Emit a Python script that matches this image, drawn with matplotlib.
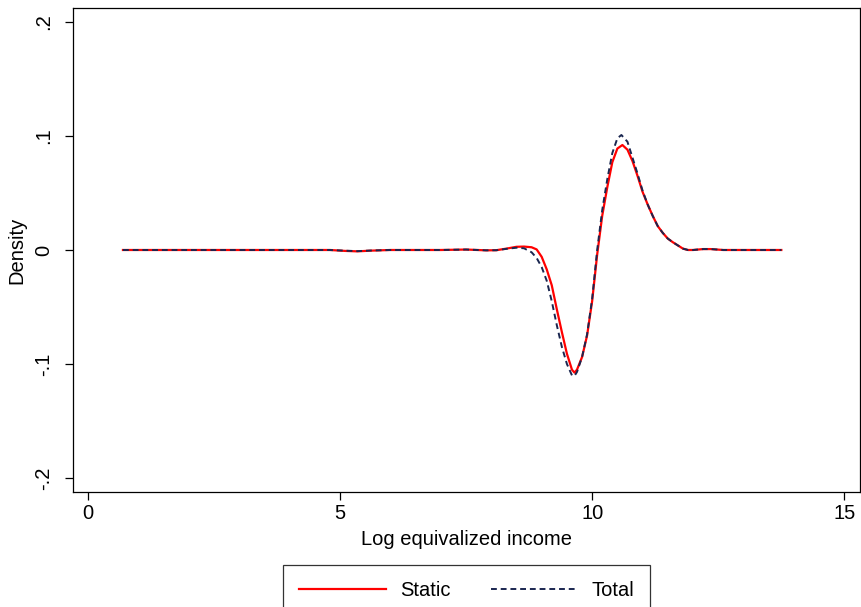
import matplotlib
matplotlib.use("Agg")
from matplotlib import pyplot as plt

plt.rcParams['font.family'] = ['Liberation Sans', 'DejaVu Sans']

# values
static_x = [0.7, 2.0, 3.0, 4.0, 4.8, 5.1, 5.35, 5.6, 6.0, 7.0, 7.5, 7.9, 8.1, 8.3,
            8.5, 8.65, 8.8, 8.9, 9.0, 9.1, 9.2, 9.3, 9.4, 9.5, 9.6, 9.65, 9.7,
            9.8, 9.9, 10.0, 10.1, 10.2, 10.3, 10.4, 10.5, 10.6, 10.7, 10.8, 10.9,
            11.0, 11.1, 11.2, 11.3, 11.4, 11.5, 11.6, 11.7, 11.8, 11.9, 12.0,
            12.2, 12.35, 12.6, 13.0, 13.75]
static_y = [0, 0, 0, 0, 0, -0.0008, -0.0012, -0.0006, 0, 0, 0.0004, -0.0003,
            -0.0002, 0.0012, 0.0028, 0.0030, 0.0024, 0.0005, -0.006, -0.017,
            -0.031, -0.052, -0.072, -0.091, -0.105, -0.1076, -0.105, -0.094,
            -0.075, -0.045, -0.004, 0.030, 0.055, 0.077, 0.089, 0.0921, 0.088,
            0.078, 0.065, 0.051, 0.040, 0.030, 0.021, 0.015, 0.010, 0.0068,
            0.004, 0.0012, 0, 0, 0.0008, 0.0008, 0, 0, 0]

total_x = [0.7, 2.0, 3.0, 4.0, 4.8, 5.1, 5.35, 5.6, 6.0, 7.0, 7.5, 7.9, 8.1, 8.3,
           8.5, 8.65, 8.8, 8.9, 9.0, 9.1, 9.2, 9.3, 9.4, 9.5, 9.6, 9.65, 9.7,
           9.8, 9.9, 10.0, 10.1, 10.2, 10.3, 10.4, 10.5, 10.58, 10.7, 10.8, 10.9,
           11.0, 11.1, 11.2, 11.3, 11.4, 11.5, 11.6, 11.7, 11.8, 11.9, 12.0,
           12.2, 12.35, 12.6, 13.0, 13.75]
total_y = [0, 0, 0, 0, 0, -0.0006, -0.0010, -0.0005, 0, 0, 0.0004, -0.0003,
           -0.0002, 0.0010, 0.0020, 0.0015, -0.002, -0.007, -0.015, -0.027,
           -0.045, -0.066, -0.085, -0.100, -0.110, -0.1105, -0.107, -0.094,
           -0.074, -0.043, 0.000, 0.035, 0.062, 0.085, 0.098, 0.1009, 0.095,
           0.081, 0.067, 0.052, 0.040, 0.030, 0.021, 0.015, 0.010, 0.0068,
           0.004, 0.0012, 0, 0, 0.0008, 0.0008, 0, 0, 0]

xticks = [0, 5, 10, 15]
yticks = [-0.2, -0.1, 0, 0.1, 0.2]
ytick_labels = ['-.2', '-.1', '0', '.1', '.2']

fig = plt.figure(figsize=(8.62, 6.07), dpi=100)
ax = fig.add_axes([0.0847, 0.1895, 0.913, 0.7973])

ax.plot(static_x, static_y, color='#ff0000', lw=1.6, label='Static', zorder=3)
ax.plot(total_x, total_y, color='#1a2650', lw=1.4, ls=(0, (3, 2)),
        label='Total', zorder=4)

ax.set_xlim(-0.29, 15.31)
ax.set_ylim(-0.2123, 0.2123)
ax.set_xticks(xticks)
ax.set_xticklabels([str(t) for t in xticks])
ax.set_yticks(yticks)
ax.set_yticklabels(ytick_labels, rotation=90, va='center')

ax.tick_params(direction='out', length=6, width=0.9, labelsize=14.5)
ax.tick_params(axis='y', pad=8)
ax.tick_params(axis='x', pad=3)
for s in ax.spines.values():
    s.set_linewidth(0.9)

ax.set_xlabel('Log equivalized income', fontsize=14.5, labelpad=5)
ax.set_ylabel('Density', fontsize=14.5, labelpad=6)

leg = fig.legend(loc='upper center', bbox_to_anchor=(0.5415, 0.069), ncol=2,
                 fontsize=14.5, frameon=True, fancybox=False, edgecolor='black',
                 handlelength=4.3, columnspacing=2.0, borderpad=0.8,
                 handletextpad=0.7, borderaxespad=0)
leg.get_frame().set_linewidth(0.9)

fig.savefig('out.png', dpi=100)
